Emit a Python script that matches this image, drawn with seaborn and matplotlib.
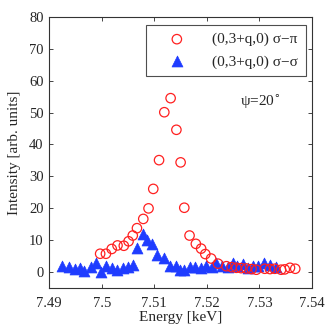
import pandas as pd
import seaborn as sns
import matplotlib
matplotlib.use('Agg')
from matplotlib import pyplot as plt

# sigma-pi channel (red open circles)
pi_energy = [7.4997, 7.5008, 7.5019, 7.5030, 7.5042, 7.5051, 7.5059, 7.5067, 7.5079, 7.5089,
             7.5098, 7.5109, 7.5119, 7.5131, 7.5142, 7.5150, 7.5157, 7.5167, 7.5179, 7.5189,
             7.5197, 7.5208, 7.5221, 7.5237, 7.5247, 7.5256, 7.5265, 7.5275, 7.5285, 7.5294,
             7.5310, 7.5320, 7.5329, 7.5341, 7.5348, 7.5358, 7.5368]
pi_intensity = [5.8, 5.8, 7.3, 8.4, 8.3, 9.7, 11.5, 13.8, 16.7, 20.0,
                26.1, 35.1, 50.1, 54.5, 44.6, 34.4, 20.2, 11.5, 8.9, 7.4,
                5.7, 4.3, 2.7, 1.9, 1.6, 1.4, 1.3, 1.2, 1.0, 0.8,
                1.1, 1.0, 1.1, 0.8, 0.9, 1.4, 1.1]

# sigma-sigma channel (blue filled triangles)
sig_energy = [7.4925, 7.4938, 7.4949, 7.4958, 7.4967, 7.4979, 7.4989, 7.4998, 7.5008, 7.5019,
              7.5029, 7.5041, 7.5050, 7.5060, 7.5067, 7.5078, 7.5086, 7.5095, 7.5105, 7.5118,
              7.5130, 7.5141, 7.5148, 7.5157, 7.5167, 7.5177, 7.5188, 7.5198, 7.5209, 7.5218,
              7.5228, 7.5240, 7.5249, 7.5257, 7.5268, 7.5278, 7.5288, 7.5297, 7.5309, 7.5320,
              7.5331]
sig_intensity = [1.9, 1.7, 1.1, 1.25, 0.4, 1.7, 2.9, 0.1, 1.9, 1.4,
                 0.6, 1.4, 1.7, 2.4, 7.6, 12.1, 10.0, 8.7, 5.4, 4.4,
                 2.1, 2.1, 0.7, 0.8, 1.7, 1.7, 1.2, 2.1, 1.6, 2.9,
                 1.9, 1.7, 2.9, 1.9, 2.7, 1.4, 2.1, 1.9, 2.9, 2.4,
                 1.7]

df_pi = pd.DataFrame({'energy': pi_energy, 'intensity': pi_intensity})
df_sig = pd.DataFrame({'energy': sig_energy, 'intensity': sig_intensity})

sns.set_style('ticks')
plt.rcParams['font.family'] = ['Liberation Serif', 'DejaVu Serif']
plt.rcParams['xtick.direction'] = 'in'
plt.rcParams['ytick.direction'] = 'in'

fig = plt.figure(figsize=(3.32, 3.34), dpi=100)
ax = fig.add_axes([0.148, 0.137, 0.792, 0.813])

sns.scatterplot(data=df_pi, x='energy', y='intensity', ax=ax, marker='o',
                facecolor='none', edgecolor='#ff2020', linewidth=0.9, s=46,
                label='(0,3+q,0) \u03c3\u2212\u03c0', zorder=3)
sns.scatterplot(data=df_sig, x='energy', y='intensity', ax=ax, marker='^',
                color='#1f3cff', edgecolor='#1f3cff', linewidth=0.5, s=62,
                label='(0,3+q,0) \u03c3\u2212\u03c3', zorder=2)

ax.set_xlim(7.49, 7.54)
ax.set_ylim(-5, 80)
ax.set_xticks([7.49, 7.50, 7.51, 7.52, 7.53, 7.54])
ax.set_xticklabels(['7.49', '7.5', '7.51', '7.52', '7.53', '7.54'])
ax.set_yticks(range(0, 81, 10))
ax.tick_params(labelsize=10.5, top=True, right=True, length=3, width=0.6, pad=4)
ax.tick_params(axis='x', pad=6)
for sp in ax.spines.values():
    sp.set_linewidth(0.8)
    sp.set_color('#333333')

ax.set_xlabel('Energy [keV]', fontsize=11, labelpad=1)
ax.set_ylabel('Intensity [arb. units]', fontsize=11, labelpad=6)

ax.text(7.5262, 52, '\u03c8=20$^{\\circ}$', fontsize=11)

leg = ax.legend(loc='upper right', fontsize=11, frameon=True, fancybox=False,
                edgecolor='#222222', borderpad=0.5, handletextpad=0.8,
                handlelength=3.0, labelspacing=0.55, borderaxespad=0,
                bbox_to_anchor=(0.975, 0.97))
leg.get_frame().set_linewidth(0.8)

plt.savefig('out.png', dpi=100)
